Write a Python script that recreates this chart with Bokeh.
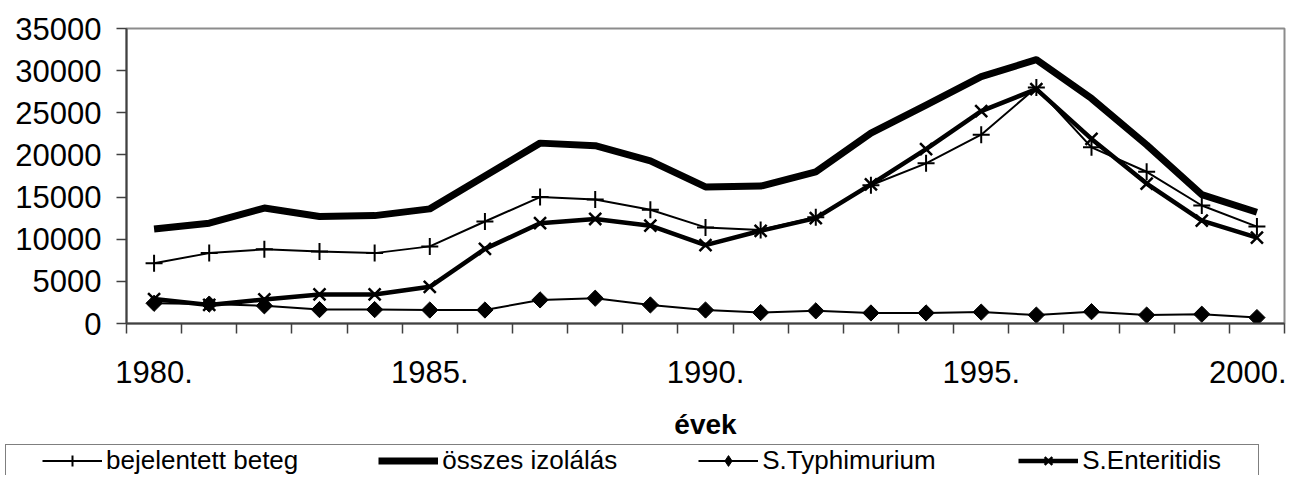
import math
from bokeh.plotting import figure
from bokeh.layouts import column, row
from bokeh.models import FixedTicker, Legend, LegendItem, Range1d, NumeralTickFormatter
from bokeh.embed import file_html
from bokeh.resources import INLINE

# ---- data ----
years = list(range(1980, 2001))
bejelentett = [7150, 8350, 8800, 8550, 8350, 9150, 12100, 15000, 14700, 13500, 11400,
               11100, 12600, 16400, 19000, 22400, 28000, 20900, 18000, 14000, 11500]
osszes = [11200, 11900, 13700, 12700, 12800, 13600, 17500, 21400, 21100, 19300, 16200,
          16300, 18000, 22600, 25900, 29300, 31300, 26700, 21200, 15300, 13200]
typhimurium = [2400, 2300, 2100, 1650, 1650, 1600, 1600, 2800, 3000, 2200, 1600,
               1300, 1500, 1250, 1250, 1350, 1000, 1400, 1000, 1100, 700]
enteritidis = [2900, 2200, 2850, 3450, 3450, 4350, 8850, 11900, 12400, 11600, 9300,
               11000, 12500, 16500, 20700, 25200, 27800, 21900, 16600, 12200, 10200]
label_years = [1980, 1985, 1990, 1995, 2000]
y_ticks = [0, 5000, 10000, 15000, 20000, 25000, 30000, 35000]
series_names = ["bejelentett beteg", "összes izolálás", "S.Typhimurium", "S.Enteritidis"]
x_title = "évek"

FONT = "Liberation Sans"


def draw_series(fig, diamond_marker="square", diamond_angle=math.pi / 4):
    r1l = fig.line(years, bejelentett, line_color="black", line_width=2)
    r1m = fig.scatter(years, bejelentett, marker="cross", size=17, line_color="black",
                      line_width=2)
    r2l = fig.line(years, osszes, line_color="black", line_width=7, line_join="round")
    r3l = fig.line(years, typhimurium, line_color="black", line_width=2)
    r3m = fig.scatter(years, typhimurium, marker=diamond_marker, angle=diamond_angle,
                      size=11.5, line_color="black", fill_color="black")
    r4l = fig.line(years, enteritidis, line_color="black", line_width=4.5, line_join="round")
    r4m = fig.scatter(years, enteritidis, marker="x", size=17, line_color="black",
                      line_width=2.5)
    return [[r1l, r1m], [r2l], [r3l, r3m], [r4l, r4m]]


# ---------------- main chart ----------------
p = figure(width=1286, height=443,
           x_range=Range1d(years[0] - 0.5, years[-1] + 0.5),
           y_range=Range1d(y_ticks[0], y_ticks[-1]),
           output_backend="svg", toolbar_location=None,
           min_border_left=126, min_border_right=2, min_border_top=28,
           min_border_bottom=120)

p.background_fill_color = "white"
p.border_fill_color = "white"
p.grid.visible = False
p.outline_line_color = "#8c8c8c"
p.outline_line_width = 2

xa = p.xaxis[0]
xa.ticker = FixedTicker(ticks=label_years,
                        minor_ticks=[y - 0.5 for y in years] + [years[-1] + 0.5])
xa.major_label_overrides = {y: f"{y}." for y in label_years}
xa.major_tick_out = 0
xa.major_tick_in = 0
xa.minor_tick_out = 10
xa.minor_tick_in = 0
xa.minor_tick_line_color = "#404040"
xa.minor_tick_line_width = 1.5
xa.axis_line_color = "#404040"
xa.axis_line_width = 2
xa.major_label_text_font = FONT
xa.major_label_text_font_size = "31px"
xa.major_label_text_color = "black"
xa.major_label_standoff = 27
xa.axis_label = x_title
xa.axis_label_text_font = FONT
xa.axis_label_text_font_size = "28px"
xa.axis_label_text_font_style = "bold"
xa.axis_label_text_color = "black"
xa.axis_label_standoff = 23

ya = p.yaxis[0]
ya.ticker = FixedTicker(ticks=y_ticks)
ya.formatter = NumeralTickFormatter(format="0")
ya.major_tick_out = 10
ya.major_tick_in = 0
ya.minor_tick_out = 0
ya.minor_tick_in = 0
ya.major_tick_line_color = "#404040"
ya.major_tick_line_width = 1.5
ya.axis_line_color = "#404040"
ya.axis_line_width = 2
ya.major_label_text_font = FONT
ya.major_label_text_font_size = "31px"
ya.major_label_text_color = "black"
ya.major_label_standoff = 15

draw_series(p)

# ---------------- legend strip ----------------
lg = figure(width=1286, height=32, x_range=Range1d(0, 1), y_range=Range1d(0, 1),
            x_axis_type=None, y_axis_type=None,
            output_backend="svg", toolbar_location=None,
            min_border_left=4, min_border_right=17, min_border_top=0, min_border_bottom=0)
lg.grid.visible = False
lg.background_fill_color = "white"
lg.border_fill_color = "white"
lg.outline_line_color = None

# same series, outside the strip's ranges: only their legend samples show
rends = draw_series(lg, diamond_marker="diamond", diamond_angle=0)
legend = Legend(items=[LegendItem(label=n, renderers=r) for n, r in zip(series_names, rends)],
                orientation="horizontal", location=(1, -1.5),
                glyph_width=60, glyph_height=27, label_standoff=4, label_width=176, spacing=80,
                padding=0, margin=0,
                border_line_color="black", border_line_width=1,
                background_fill_color="white", background_fill_alpha=1,
                label_text_font=FONT, label_text_font_size="26px", label_text_color="black",
                title=" ", title_location="left", title_text_font_size="12px",
                title_standoff=22)
lg.add_layout(legend)

open("out.html", "w").write(file_html(column(p, row(lg), spacing=0), INLINE))
